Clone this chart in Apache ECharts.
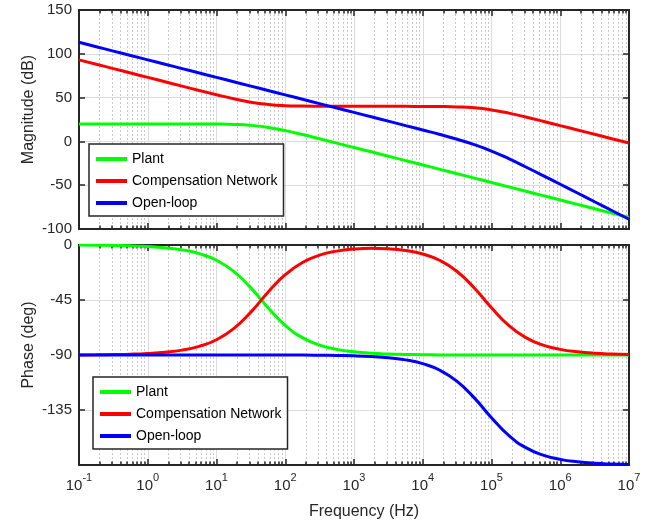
<!DOCTYPE html>
<html>
<head>
<meta charset="utf-8">
<script src="https://cdn.jsdelivr.net/npm/echarts@6/dist/echarts.min.js"></script>
<style>html,body{margin:0;padding:0;background:#fff}#c{width:657px;height:525px}</style>
</head>
<body>
<div id="c"></div>
<script>
// ---- data ----
const freqs = [0.1, 0.178, 0.316, 0.562, 1, 1.78, 3.16, 5.62, 10, 17.8, 31.6, 56.2, 100, 178, 316, 562,
  1000, 1780, 3160, 5620, 1e4, 17800, 31600, 56200, 1e5, 178000, 316000, 562000, 1e6, 1.78e6, 3.16e6, 5.62e6, 1e7];
const plantMag = [20.0, 20.0, 20.0, 20.0, 20.0, 20.0, 20.0, 19.9, 19.8, 19.4, 18.3, 15.9, 12.3, 7.8, 3.0, -2.0,
  -7.0, -11.9, -16.9, -21.9, -26.9, -31.9, -36.9, -41.9, -46.9, -51.9, -56.9, -61.9, -66.9, -71.9, -76.9, -81.9, -86.9];
const compMag = [93.1, 88.1, 83.1, 78.1, 73.1, 68.1, 63.1, 58.1, 53.3, 48.7, 44.8, 42.2, 40.8, 40.3, 40.1, 40.0,
  40.0, 40.0, 40.0, 40.0, 39.9, 39.8, 39.4, 38.3, 35.9, 32.3, 27.8, 23.0, 18.0, 13.1, 8.1, 3.1, -1.9];
const olMag = [113.1, 108.1, 103.1, 98.1, 93.1, 88.1, 83.1, 78.1, 73.1, 68.1, 63.1, 58.1, 53.1, 48.1, 43.1, 38.1,
  33.1, 28.1, 23.1, 18.0, 13.0, 7.9, 2.4, -3.7, -11.0, -19.7, -29.2, -39.0, -48.9, -58.9, -68.9, -78.9, -88.9];
const plantPh = [-0.1, -0.2, -0.4, -0.7, -1.3, -2.3, -4.0, -7.1, -12.5, -21.6, -35.1, -51.3, -65.8, -75.8, -81.9, -85.4,
  -87.4, -88.6, -89.2, -89.5, -89.7, -89.9, -89.9, -90.0, -90.0, -90.0, -90.0, -90.0, -90.0, -90.0, -90.0, -90.0, -90.0];
const compPh = [-89.9, -89.8, -89.6, -89.3, -88.7, -87.7, -86.0, -82.9, -77.5, -68.4, -54.9, -38.7, -24.3, -14.3, -8.3, -5.0,
  -3.3, -2.7, -3.1, -4.5, -7.4, -12.7, -21.7, -35.2, -51.4, -65.8, -75.8, -81.9, -85.4, -87.4, -88.6, -89.2, -89.5];
const olPh = [-90.0, -90.0, -90.0, -90.0, -90.0, -90.0, -90.0, -90.0, -90.0, -90.0, -90.0, -90.0, -90.1, -90.1, -90.2, -90.4,
  -90.7, -91.3, -92.3, -94.0, -97.1, -102.5, -111.6, -125.1, -141.3, -155.8, -165.8, -171.9, -175.4, -177.4, -178.6, -179.2, -179.5];
const seriesNames = ['Plant', 'Compensation Network', 'Open-loop'];
const decadeTicks = [0.1, 1, 10, 100, 1e3, 1e4, 1e5, 1e6, 1e7];
const magTicks = { min: -100, max: 150, interval: 50 };
const phaseTicks = { min: -180, max: 0, interval: 45 };

// ---- styling ----
const FONT = 'Liberation Sans, Arial, Helvetica, sans-serif';
const AX = '#262626';
const colors = ['#00ff00', '#ff0000', '#0000ff'];
const minorTicks = [];
for (let e = -1; e < 7; e++) for (let k = 2; k <= 9; k++) minorTicks.push(+(k * Math.pow(10, e)).toPrecision(3));

function xAxes(gi, showLabels) {
  const base = { type: 'log', logBase: 10, min: 0.1, max: 1e7, gridIndex: gi, axisLine: { show: false, onZero: false } };
  return [
    Object.assign({}, base, {
      position: 'bottom',
      axisTick: { show: true, inside: true, length: 6, lineStyle: { color: AX, width: 1.5 }, customValues: decadeTicks },
      axisLabel: showLabels ? {
        show: true, customValues: decadeTicks, margin: 10,
        formatter: v => '{b|10}{s|' + Math.round(Math.log10(v)) + '}',
        rich: {
          b: { fontSize: 15, fontFamily: FONT, color: AX, lineHeight: 15, padding: [6, 0, 0, 0] },
          s: { fontSize: 11, fontFamily: FONT, color: AX, lineHeight: 11, padding: [0, 0, 10, 0] }
        }
      } : { show: false },
      splitLine: { show: true, lineStyle: { color: '#dcdcdc', width: 1 } },
      name: showLabels ? 'Frequency (Hz)' : '',
      nameLocation: 'middle', nameGap: 39,
      nameTextStyle: { fontSize: 16, fontFamily: FONT, color: AX, padding: [0, 0, 0, 20] }
    }),
    Object.assign({}, base, {
      position: 'bottom',
      axisTick: { show: true, inside: true, length: 3.5, lineStyle: { color: AX, width: 1.5 }, customValues: minorTicks },
      axisLabel: { show: false },
      splitLine: { show: true, lineStyle: { color: '#c8c8c8', width: 1, type: [2, 2] } }
    }),
    Object.assign({}, base, {
      position: 'top',
      axisTick: { show: true, inside: true, length: 6, lineStyle: { color: AX, width: 1.5 }, customValues: decadeTicks },
      axisLabel: { show: false }, splitLine: { show: false }
    }),
    Object.assign({}, base, {
      position: 'top',
      axisTick: { show: true, inside: true, length: 3.5, lineStyle: { color: AX, width: 1.5 }, customValues: minorTicks },
      axisLabel: { show: false }, splitLine: { show: false }
    })
  ];
}

function yAxes(gi, t, name, hideMin) {
  const base = { type: 'value', gridIndex: gi, min: t.min, max: t.max, interval: t.interval, axisLine: { show: false, onZero: false } };
  return [
    Object.assign({}, base, {
      position: 'left',
      axisTick: { show: true, inside: true, length: 6, lineStyle: { color: AX, width: 1.5 } },
      axisLabel: { show: true, fontSize: 15, fontFamily: FONT, color: AX, margin: 7,
        formatter: v => (hideMin && v === t.min) ? '' : String(v) },
      splitLine: { show: true, lineStyle: { color: '#dcdcdc', width: 1 } },
      name: name, nameLocation: 'middle', nameGap: 42, nameMoveOverlap: false,
      nameTextStyle: { fontSize: 16, fontFamily: FONT, color: AX, padding: [0, 0, 0, 20] }
    }),
    Object.assign({}, base, {
      position: 'right',
      axisTick: { show: true, inside: true, length: 6, lineStyle: { color: AX, width: 1.5 } },
      axisLabel: { show: false }, splitLine: { show: false }
    })
  ];
}

function mkSeries(name, xs, ys, color, xi, yi) {
  return {
    name: name, type: 'line', xAxisIndex: xi, yAxisIndex: yi,
    data: xs.map((f, i) => [f, ys[i]]),
    showSymbol: false, symbol: 'none', smooth: 0.5,
    lineStyle: { color: color, width: 3 }, itemStyle: { color: color },
    emphasis: { disabled: true }, z: 3, animation: false
  };
}

function mkLegend(left, top) {
  return {
    data: seriesNames, left: left, top: top, orient: 'vertical',
    backgroundColor: '#ffffff', borderColor: AX, borderWidth: 1.5, borderRadius: 0,
    padding: [7, 6, 5, 7], itemGap: 6, itemWidth: 31, itemHeight: 4, icon: 'rect',
    textStyle: { fontSize: 14, fontFamily: FONT, color: '#000', lineHeight: 16 },
    selectedMode: false
  };
}

const chart = echarts.init(document.getElementById('c'), null, { renderer: 'canvas' });
chart.setOption({
  backgroundColor: '#ffffff',
  animation: false,
  grid: [
    { left: 79, top: 10, width: 550, height: 219, show: true, borderColor: AX, borderWidth: 2, backgroundColor: 'transparent', z: 1 },
    { left: 79, top: 245, width: 550, height: 220, show: true, borderColor: AX, borderWidth: 2, backgroundColor: 'transparent', z: 1 }
  ],
  xAxis: xAxes(0, false).concat(xAxes(1, true)),
  yAxis: yAxes(0, magTicks, 'Magnitude (dB)', false).concat(yAxes(1, phaseTicks, 'Phase (deg)', true)),
  legend: [mkLegend(89, 144), mkLegend(93, 377)],
  series: [
    mkSeries(seriesNames[0], freqs, plantMag, colors[0], 0, 0),
    mkSeries(seriesNames[1], freqs, compMag, colors[1], 0, 0),
    mkSeries(seriesNames[2], freqs, olMag, colors[2], 0, 0),
    mkSeries(seriesNames[0], freqs, plantPh, colors[0], 4, 2),
    mkSeries(seriesNames[1], freqs, compPh, colors[1], 4, 2),
    mkSeries(seriesNames[2], freqs, olPh, colors[2], 4, 2)
  ]
});
</script>
</body>
</html>
